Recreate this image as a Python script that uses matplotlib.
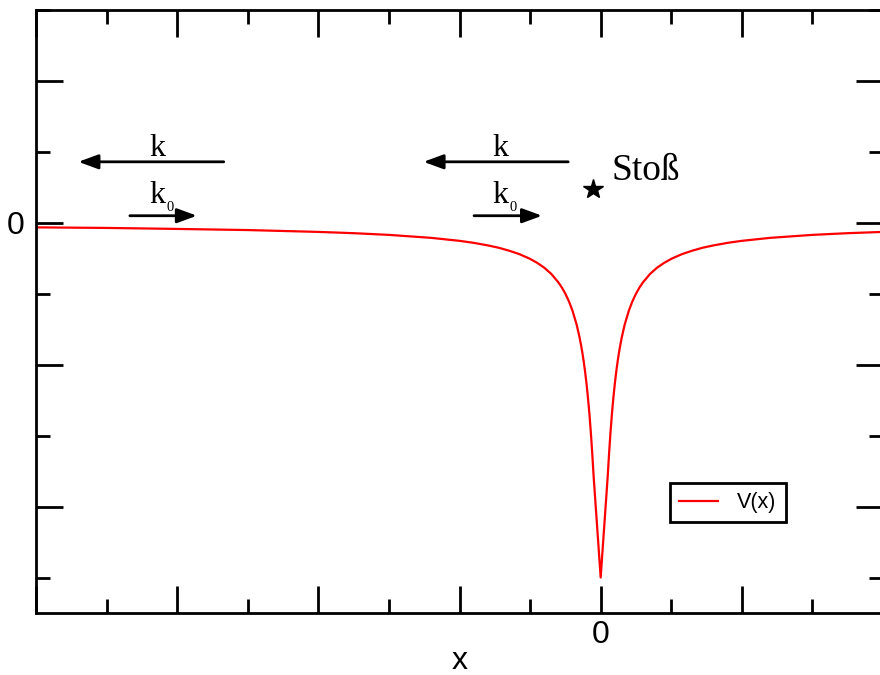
import matplotlib
matplotlib.use("Agg")
import matplotlib.pyplot as plt
from matplotlib.ticker import MultipleLocator

# V(x)
x_vals = [-4.0, -3.5, -3.0, -2.5, -2.0, -1.75, -1.5, -1.2, -1.0, -0.9, -0.8, -0.725,
          -0.65, -0.575, -0.5, -0.45, -0.4, -0.35, -0.3, -0.275, -0.25, -0.225, -0.2,
          -0.17, -0.15, -0.14, -0.13, -0.12, -0.11, -0.1, -0.09, -0.08, -0.07, -0.06,
          -0.05, 0.0,
          0.05, 0.06, 0.07, 0.08, 0.09, 0.1, 0.11, 0.12, 0.13, 0.14, 0.15, 0.17, 0.2,
          0.225, 0.25, 0.275, 0.3, 0.35, 0.4, 0.45, 0.5, 0.575, 0.65, 0.725, 0.8, 0.9,
          1.0, 1.2, 1.5, 1.75, 2.0]
v_vals = [-0.032, -0.036, -0.043, -0.051, -0.064, -0.073, -0.085, -0.106, -0.127,
          -0.141, -0.159, -0.175, -0.196, -0.221, -0.254, -0.282, -0.316, -0.360,
          -0.419, -0.456, -0.500, -0.553, -0.618, -0.718, -0.805, -0.856, -0.913,
          -0.978, -1.052, -1.136, -1.233, -1.344, -1.472, -1.619,
          -1.785, -2.5,
          -1.785, -1.619, -1.472, -1.344, -1.233, -1.136, -1.052, -0.978, -0.913,
          -0.856, -0.805, -0.718, -0.618, -0.553, -0.500, -0.456, -0.419, -0.360,
          -0.316, -0.282, -0.254, -0.221, -0.196, -0.175, -0.159, -0.141, -0.127,
          -0.106, -0.085, -0.073, -0.064]

series_label = "V(x)"
x_label = "x"
xtick_labels = ["0"]
ytick_labels = ["0"]

fig = plt.figure(figsize=(8.8, 6.75), dpi=100)
ax = fig.add_axes([36/880, 1-613/675, (883-36)/880, (613-10)/675])
ax.plot(x_vals, v_vals, color="red", lw=1.6, label=series_label,
        solid_joinstyle="round")
ax.set_xlim(-4, 2)
ax.set_ylim(-2.75, 1.5)

for s in ax.spines.values():
    s.set_linewidth(2.0)
    s.set_clip_on(False)

ax.xaxis.set_minor_locator(MultipleLocator(0.5))
ax.yaxis.set_minor_locator(MultipleLocator(0.5))
ax.set_xticks([-4, -3, -2, -1, 0, 1, 2])
ax.set_xticklabels(["", "", "", "", xtick_labels[0], "", ""])
ax.set_yticks([-2, -1, 0, 1])
ax.set_yticklabels(["", "", ytick_labels[0], ""])
ax.tick_params(which="both", direction="in", top=True, right=True, width=2.0)
ax.tick_params(which="major", length=19.5, labelsize=23)
ax.tick_params(which="minor", length=10)
ax.tick_params(axis="x", which="major", pad=5)
ax.tick_params(axis="y", which="major", pad=8)
for lab in ax.get_xticklabels() + ax.get_yticklabels():
    lab.set_family("Liberation Sans")

ax.set_xlabel(x_label, fontsize=23, family="Liberation Sans", labelpad=-3)

arrow_kw = dict(arrowstyle="-|>,head_length=0.6,head_width=0.22", color="black",
                lw=2.0, shrinkA=0, shrinkB=0, mutation_scale=20)
# arrows (tail -> head)
ax.annotate("", xy=(-3.70, 0.43), xytext=(-2.67, 0.43), arrowprops=arrow_kw)
ax.annotate("", xy=(-2.86, 0.05), xytext=(-3.335, 0.05), arrowprops=arrow_kw)
ax.annotate("", xy=(-1.255, 0.43), xytext=(-0.23, 0.43), arrowprops=arrow_kw)
ax.annotate("", xy=(-0.415, 0.05), xytext=(-0.897, 0.05), arrowprops=arrow_kw)

serif = "Liberation Serif"
ax.text(-3.14, 0.472, "k", fontsize=23, family=serif, ha="center", va="baseline")
ax.text(-0.712, 0.472, "k", fontsize=23, family=serif, ha="center", va="baseline")
ax.text(-3.14, 0.141, "k", fontsize=23, family=serif, ha="center", va="baseline")
ax.text(-0.712, 0.141, "k", fontsize=23, family=serif, ha="center", va="baseline")
ax.text(-3.075, 0.085, "0", fontsize=10.5, family=serif, ha="left", va="baseline")
ax.text(-0.645, 0.085, "0", fontsize=10.5, family=serif, ha="left", va="baseline")

ax.plot([-0.053], [0.24], marker="*", color="black", markersize=15, clip_on=False)
ax.text(0.08, 0.30, "Stoß", fontsize=27, family=serif, ha="left", va="baseline")

leg = ax.legend(loc="upper left", bbox_to_anchor=((670-36)/847, 1-(483-10)/603),
                borderaxespad=0, fancybox=False, edgecolor="black",
                prop={"family": "Liberation Sans", "size": 15.5},
                handlelength=1.8, handletextpad=0.9, borderpad=0.42, framealpha=1)
leg.get_frame().set_linewidth(2.0)

fig.savefig("out.png", dpi=100)
